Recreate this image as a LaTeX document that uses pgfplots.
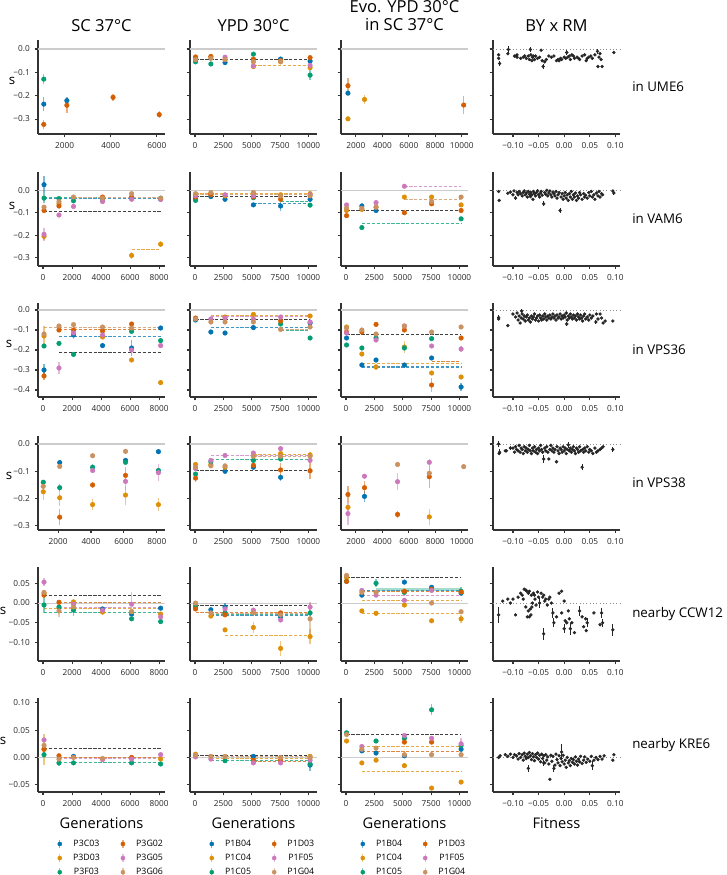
\documentclass[border=0pt]{standalone}
\usepackage{fontspec}
\setmainfont{Open Sans}
\usepackage{pgfplots}
\pgfplotsset{compat=1.18}
\definecolor{cb0}{HTML}{0173B2}
\definecolor{cb1}{HTML}{DE8F05}
\definecolor{cb2}{HTML}{029E73}
\definecolor{cb3}{HTML}{D55E00}
\definecolor{cb4}{HTML}{CC78BC}
\definecolor{cb5}{HTML}{CA9161}
\pgfplotsset{
  base/.style={scale only axis, width=95.25pt, height=70.5pt, axis lines*=left,
    axis line style={line width=0.9pt, black!80},
    every tick/.style={line width=0.8pt, black!80},
    major tick length=2.6pt, tick align=outside,
    scaled x ticks=false, scaled y ticks=false,
    ticklabel style={font=\fontsize{6.2}{7}\selectfont, text=black!85},
    extra y ticks={0}, extra y tick labels={},
    extra y tick style={grid=major, major grid style={black!20, line width=0.8pt}}},
  place/.style 2 args={at={(#1*0.75pt,-#2*0.75pt)}, anchor=north west},
  r1/.style={ymin=-0.364, ymax=0.0386, ytick={-0.3,-0.2,-0.1,0}, yticklabels={−0.3,−0.2,−0.1,0.0}},
  r2/.style={ymin=-0.337, ymax=0.0814, ytick={-0.3,-0.2,-0.1,0}, yticklabels={−0.3,−0.2,−0.1,0.0}},
  r3/.style={ymin=-0.435, ymax=0.035, ytick={-0.4,-0.3,-0.2,-0.1,0}, yticklabels={−0.4,−0.3,−0.2,−0.1,0.0}},
  r4/.style={ymin=-0.315, ymax=0.0293, ytick={-0.3,-0.2,-0.1,0}, yticklabels={−0.3,−0.2,−0.1,0.0}},
  r5/.style={ymin=-0.147, ymax=0.0914, ytick={-0.1,-0.05,0,0.05}, yticklabels={−0.10,−0.05,0.00,0.05}},
  r6/.style={ymin=-0.0632, ymax=0.1086, ytick={-0.05,0,0.05,0.1}, yticklabels={−0.05,0.00,0.05,0.10}},
  nyl/.style={yticklabels={}},
  xA1/.style={xmin=850, xmax=6350, xtick={2000,4000,6000}, xticklabels={2000,4000,6000}},
  xA/.style={xmin=-345, xmax=8400, xtick={0,2000,4000,6000,8000}, xticklabels={0,2000,4000,6000,8000}},
  xA4/.style={xmin=780, xmax=8500, xtick={2000,4000,6000,8000}, xticklabels={2000,4000,6000,8000}},
  xB/.style={xmin=-440, xmax=10760, xtick={0,2500,5000,7500,10000}, xticklabels={0,2500,5000,7500,10000}},
  xC1/.style={xmin=875, xmax=10475, xtick={2000,4000,6000,8000,10000}, xticklabels={2000,4000,6000,8000,10000}},
  xD/.style={xmin=-0.139, xmax=0.109, xtick={-0.1,-0.05,0,0.05,0.1}, xticklabels={−0.10,−0.05,0.00,0.05,0.10},
    extra y tick style={grid=major, major grid style={black!45, line width=0.5pt, dotted}}},
  ser/.style={only marks, mark=*, mark size=1.7pt, forget plot,
    error bars/x dir=both, error bars/x explicit, error bars/y dir=both, error bars/y explicit,
    error bars/error mark=none, error bars/error bar style={line width=1pt, opacity=0.5}},
  dl/.style={forget plot, no marks, line width=0.7pt, dash pattern=on 2.4pt off 1.3pt},
  sc/.style={only marks, mark=*, mark size=1.05pt, color=black!85, forget plot},
  sce/.style={sc, error bars/x dir=both, error bars/x explicit, error bars/y dir=both, error bars/y explicit,
    error bars/error mark=none, error bars/error bar style={line width=0.7pt}},
  leg/.style={legend columns=2,
    legend style={draw=none, fill=none, at={(0.10,-0.46)}, anchor=north west,
      font=\fontsize{6.6}{7.5}\selectfont, row sep=1.9pt,
      nodes={inner sep=1.2pt},
      /tikz/every even column/.append style={column sep=12.5pt}}}
}
\newcommand\Sr[2]{\addplot[color=#1, ser] coordinates {#2};}
\newcommand\Dl[4]{\addplot[color=#1!75!white, dl] coordinates {(#3,#2) (#4,#2)};}
\newcommand\Lg[2]{\addlegendimage{color=#1, legend image code/.code={%
   \draw[color=#1, opacity=0.5, line width=0.9pt] (0.12cm,-0.105cm)--(0.12cm,0.105cm);
   \fill[color=#1] (0.12cm,0cm) circle (1.5pt);
   \path (0cm,0cm) (0.42cm,0cm);}}\addlegendentry{#2}}
\begin{document}
\begin{tikzpicture}
\path[use as bounding box] (0,0) rectangle (544.5pt,-656.25pt);
% titles
\node[font=\fontsize{12.4}{14}\selectfont] at (101.5*0.75pt,-26*0.75pt) {SC 37°C};
\node[font=\fontsize{12.4}{14}\selectfont] at (253.5*0.75pt,-26*0.75pt) {YPD 30°C};
\node[font=\fontsize{12.4}{13.6}\selectfont, align=center] at (404.5*0.75pt,-16*0.75pt) {Evo. YPD 30°C\\in SC 37°C};
\node[font=\fontsize{12.4}{14}\selectfont] at (556.5*0.75pt,-26*0.75pt) {BY x RM};
% row labels
\foreach \t/\yy in {in UME6/87, in VAM6/219, in VPS36/350, in VPS38/483, nearby CCW12/614, nearby KRE6/745}
  \node[font=\fontsize{10}{12}\selectfont, anchor=west, inner sep=0pt] at (632*0.75pt,-\yy*0.75pt) {\t};
% s labels
\foreach \xx/\yy in {12/81, 12/206, 9/344, 9/476, 3/611, 3/741}
  \node[font=\fontsize{10}{12}\selectfont] at (\xx*0.75pt,-\yy*0.75pt) {s};
% x labels
\foreach \xx/\t in {101.5/Generations, 253.5/Generations, 404.5/Generations, 556.5/Fitness}
  \node[font=\fontsize{11}{13}\selectfont] at (\xx*0.75pt,-823*0.75pt) {\t};

%================ ROW 1 =================
\begin{axis}[base,place={38}{40},r1,xA1]
\Sr{cb0}{(1100,-0.236) +- (0,0.03) (2100,-0.221) +- (0,0.016)}
\Sr{cb2}{(1100,-0.129) +- (0,0.022)}
\Sr{cb3}{(1100,-0.323) +- (0,0.02) (2100,-0.241) +- (0,0.032) (4100,-0.207) +- (0,0.016) (6100,-0.281) +- (0,0.016)}
\end{axis}
\begin{axis}[base,place={190}{40},r1,nyl,xB]
\Dl{black}{-0.044}{50}{10150}
\Dl{cb1}{-0.071}{5150}{10150}
\Sr{cb0}{(2650,-0.058) +- (0,0.012) (7550,-0.043) +- (0,0.005) (10150,-0.052) +- (0,0.006)}
\Sr{cb1}{(50,-0.04) +- (0,0.004) (1400,-0.033) +- (0,0.004) (2650,-0.045) +- (0,0.004) (5150,-0.075) +- (0,0.01) (7550,-0.055) +- (0,0.008) (10150,-0.08) +- (0,0.006)}
\Sr{cb2}{(50,-0.055) +- (0,0.004) (1400,-0.064) +- (0,0.008) (5150,-0.022) +- (0,0.006) (10150,-0.112) +- (0,0.02)}
\Sr{cb3}{(50,-0.034) +- (0,0.004) (1400,-0.032) +- (0,0.004) (5150,-0.043) +- (0,0.004) (7550,-0.05) +- (0,0.004) (10150,-0.037) +- (0,0.004)}
\Sr{cb4}{(2650,-0.035) +- (0,0.004) (5150,-0.073) +- (0,0.008) (10150,-0.07) +- (0,0.004)}
\Sr{cb5}{(50,-0.045) +- (0,0.004) (1400,-0.04) +- (0,0.004) (2650,-0.045) +- (0,0.004) (5150,-0.055) +- (0,0.004) (7550,-0.053) +- (0,0.004)}
\end{axis}
\begin{axis}[base,place={341}{40},r1,nyl,xC1]
\Sr{cb0}{(1400,-0.189) +- (0,0.01)}
\Sr{cb1}{(1400,-0.299) +- (0,0.004) (2650,-0.216) +- (0,0.02)}
\Sr{cb3}{(1400,-0.157) +- (0,0.035) (10150,-0.24) +- (0,0.04)}
\end{axis}
\begin{axis}[base,place={493}{40},r1,nyl,xD]
\addplot[sc] coordinates {(-0.128,-0.025) (-0.128,-0.04) (-0.11,-0.02) (-0.097,-0.03) (-0.092,-0.035) (-0.092,-0.025) (-0.08,-0.035) (-0.077,-0.03) (-0.074,-0.04) (-0.07,-0.03) (-0.068,-0.045) (-0.065,-0.025) (-0.063,-0.05) (-0.062,-0.035) (-0.06,-0.03) (-0.058,-0.045) (-0.056,-0.03) (-0.045,-0.005) (-0.043,-0.05) (-0.038,-0.055) (-0.035,-0.045) (-0.03,-0.03) (-0.025,-0.035) (-0.02,-0.03) (-0.015,-0.05) (-0.012,-0.045) (-0.01,-0.05) (-0.007,-0.04) (-0.005,-0.045) (0.0,-0.035) (0.003,-0.04) (0.007,-0.035) (0.01,-0.03) (0.012,-0.045) (0.015,-0.025) (0.018,-0.03) (0.02,-0.04) (0.025,-0.035) (0.03,-0.045) (0.035,-0.03) (0.04,-0.025) (0.043,-0.05) (0.048,-0.035) (0.055,-0.04) (0.06,-0.025) (0.066,-0.075) (0.068,-0.035) (0.07,-0.02) (0.074,-0.075) (0.072,-0.045) (0.097,-0.015) (-0.085,-0.04) (-0.052,-0.04) (-0.048,-0.035) (0.028,-0.04) (0.045,-0.04) (0.052,-0.03)};
\addplot[sce] coordinates {(-0.126,-0.062) +- (0,0.01) (-0.109,-0.002) +- (0,0.015) (-0.066,-0.002) +- (0,0.012) (-0.041,-0.075) +- (0,0.012) (0.005,-0.015) +- (0,0.012) (0.065,-0.01) +- (0,0.012) (-0.094,-0.03) +- (0.003,0.01)};
\end{axis}

%================ ROW 2 =================
\begin{axis}[base,place={38}{172},r2,xA]
\Dl{cb0}{-0.036}{70}{8100}
\Dl{cb2}{-0.034}{70}{8100}
\Dl{cb5}{-0.033}{2100}{8100}
\Dl{black}{-0.096}{70}{8100}
\Dl{cb1}{-0.263}{6100}{8100}
\Sr{cb0}{(70,0.025) +- (0,0.04) (8100,-0.04) +- (0,0.004)}
\Sr{cb1}{(70,-0.205) +- (0,0.015) (1100,-0.06) +- (0,0.004) (6100,-0.29) +- (0,0.015) (8100,-0.24) +- (0,0.013)}
\Sr{cb2}{(70,-0.035) +- (0,0.02) (1100,-0.037) +- (0,0.004) (2100,-0.047) +- (0,0.004) (4100,-0.045) +- (0,0.004) (6100,-0.035) +- (0,0.004) (8100,-0.035) +- (0,0.004)}
\Sr{cb3}{(70,-0.09) +- (0,0.01) (1100,-0.07) +- (0,0.004) (4100,-0.03) +- (0,0.004) (6100,-0.03) +- (0,0.004)}
\Sr{cb4}{(70,-0.196) +- (0,0.03) (1100,-0.11) +- (0,0.004) (2100,-0.072) +- (0,0.004) (4100,-0.05) +- (0,0.004) (6100,-0.04) +- (0,0.004) (8100,-0.04) +- (0,0.004)}
\Sr{cb5}{(70,-0.075) +- (0,0.004) (1100,-0.05) +- (0,0.004) (2100,-0.03) +- (0,0.01) (4100,-0.035) +- (0,0.004) (6100,-0.015) +- (0,0.004) (8100,-0.035) +- (0,0.004)}
\end{axis}
\begin{axis}[base,place={190}{172},r2,nyl,xB]
\Dl{cb1}{-0.015}{50}{10150}
\Dl{cb5}{-0.019}{50}{10150}
\Dl{black}{-0.026}{50}{10150}
\Dl{cb0}{-0.06}{5150}{10150}
\Dl{cb2}{-0.048}{7550}{10150}
\Sr{cb0}{(50,-0.035) +- (0,0.004) (1400,-0.028) +- (0,0.004) (2650,-0.04) +- (0,0.004) (5150,-0.065) +- (0,0.004) (7550,-0.07) +- (0,0.02) (10150,-0.04) +- (0,0.004)}
\Sr{cb1}{(50,-0.02) +- (0,0.004) (1400,-0.015) +- (0,0.004) (2650,-0.025) +- (0,0.004) (5150,-0.015) +- (0,0.004) (7550,-0.02) +- (0,0.004) (10150,-0.015) +- (0,0.012)}
\Sr{cb2}{(50,-0.045) +- (0,0.004) (5150,-0.033) +- (0,0.004) (10150,-0.066) +- (0,0.004)}
\Sr{cb3}{(50,-0.03) +- (0,0.004) (1400,-0.02) +- (0,0.004) (5150,-0.03) +- (0,0.004) (7550,-0.04) +- (0,0.004)}
\Sr{cb4}{(50,-0.025) +- (0,0.004) (2650,-0.02) +- (0,0.004) (5150,-0.025) +- (0,0.004) (10150,-0.02) +- (0,0.004)}
\Sr{cb5}{(50,-0.015) +- (0,0.004) (1400,-0.01) +- (0,0.004) (5150,-0.01) +- (0,0.004) (7550,-0.025) +- (0,0.004) (10150,-0.025) +- (0,0.004)}
\end{axis}
\begin{axis}[base,place={341}{172},r2,nyl,xB]
\Dl{cb4}{0.018}{5150}{10150}
\Dl{cb1}{-0.04}{5150}{10150}
\Dl{cb5}{-0.043}{5150}{10150}
\Dl{black}{-0.09}{50}{10150}
\Dl{cb2}{-0.147}{1400}{10150}
\Sr{cb0}{(1400,-0.07) +- (0,0.012) (2650,-0.09) +- (0,0.004)}
\Sr{cb1}{(50,-0.09) +- (0,0.004) (1400,-0.085) +- (0,0.012) (2650,-0.075) +- (0,0.004) (5150,-0.03) +- (0,0.004) (7550,-0.03) +- (0,0.004) (10150,-0.065) +- (0,0.004)}
\Sr{cb2}{(1400,-0.166) +- (0,0.004) (10150,-0.127) +- (0,0.006)}
\Sr{cb3}{(50,-0.113) +- (0,0.006) (5150,-0.1) +- (0,0.006) (7550,-0.06) +- (0,0.004) (10150,-0.09) +- (0,0.004)}
\Sr{cb4}{(50,-0.065) +- (0,0.004) (2650,-0.055) +- (0,0.004) (5150,0.018) +- (0,0.004)}
\Sr{cb5}{(50,-0.08) +- (0,0.004) (1400,-0.08) +- (0,0.004) (2650,-0.075) +- (0,0.004) (7550,-0.05) +- (0,0.004) (10150,-0.03) +- (0,0.004)}
\end{axis}
\begin{axis}[base,place={493}{172},r2,nyl,xD]
\addplot[sc] coordinates {(-0.128,-0.005) (-0.127,-0.045) (-0.11,-0.013) (-0.105,-0.008) (-0.1,-0.02) (-0.098,-0.003) (-0.092,-0.01) (-0.09,-0.02) (-0.088,-0.005) (-0.085,-0.015) (-0.082,-0.025) (-0.08,-0.01) (-0.078,-0.003) (-0.076,-0.02) (-0.074,-0.012) (-0.072,-0.03) (-0.07,-0.005) (-0.068,-0.018) (-0.066,-0.028) (-0.065,-0.01) (-0.063,-0.02) (-0.061,-0.04) (-0.06,-0.005) (-0.058,-0.015) (-0.056,-0.025) (-0.054,-0.01) (-0.052,-0.002) (-0.05,-0.02) (-0.048,-0.03) (-0.046,-0.012) (-0.045,-0.005) (-0.043,-0.022) (-0.038,-0.01) (-0.036,-0.018) (-0.034,0.0) (-0.032,-0.025) (-0.03,-0.012) (-0.028,-0.003) (-0.026,-0.02) (-0.024,-0.03) (-0.022,-0.008) (-0.02,-0.015) (-0.018,-0.025) (-0.016,-0.005) (-0.014,-0.035) (-0.012,-0.02) (-0.01,-0.01) (-0.006,-0.03) (-0.004,-0.015) (-0.002,-0.04) (0.0,-0.025) (0.002,-0.01) (0.004,-0.035) (0.006,-0.02) (0.008,-0.045) (0.01,-0.015) (0.012,-0.03) (0.014,-0.005) (0.016,-0.04) (0.018,-0.02) (0.02,-0.03) (0.022,-0.012) (0.024,-0.045) (0.026,-0.025) (0.028,-0.035) (0.03,-0.01) (0.032,-0.02) (0.035,-0.04) (0.038,-0.015) (0.04,-0.03) (0.042,-0.022) (0.045,-0.035) (0.048,-0.01) (0.05,-0.025) (0.053,-0.005) (0.055,-0.03) (0.058,-0.02) (0.06,-0.04) (0.063,-0.012) (0.066,-0.025) (0.068,-0.005) (0.07,-0.03) (0.073,-0.015) (0.075,-0.02) (0.095,-0.003)};
\addplot[sce] coordinates {(-0.095,-0.035) +- (0,0.01) (-0.04,-0.06) +- (0,0.012) (-0.008,-0.09) +- (0,0.012) (0.097,-0.012) +- (0,0.01)};
\end{axis}

%================ ROW 3 =================
\begin{axis}[base,place={38}{303},r3,xA]
\Dl{cb5}{-0.088}{70}{8100}
\Dl{cb3}{-0.097}{1100}{8100}
\Dl{cb0}{-0.133}{1100}{8100}
\Dl{black}{-0.213}{1100}{8100}
\Sr{cb0}{(70,-0.3) +- (0,0.03) (2100,-0.125) +- (0,0.006) (4100,-0.178) +- (0,0.006) (6100,-0.19) +- (0,0.04) (8100,-0.09) +- (0,0.004)}
\Sr{cb1}{(70,-0.13) +- (0,0.05) (4100,-0.135) +- (0,0.006) (6100,-0.25) +- (0,0.006) (8100,-0.363) +- (0,0.012)}
\Sr{cb2}{(70,-0.18) +- (0,0.006) (1100,-0.167) +- (0,0.006) (2100,-0.222) +- (0,0.006) (6100,-0.107) +- (0,0.006) (8100,-0.153) +- (0,0.01)}
\Sr{cb3}{(70,-0.33) +- (0,0.02) (1100,-0.1) +- (0,0.006) (2100,-0.1) +- (0,0.006) (4100,-0.105) +- (0,0.006) (6100,-0.07) +- (0,0.006)}
\Sr{cb4}{(1100,-0.29) +- (0,0.03) (2100,-0.115) +- (0,0.03) (4100,-0.125) +- (0,0.006) (6100,-0.2) +- (0,0.006) (8100,-0.178) +- (0,0.006)}
\Sr{cb5}{(70,-0.12) +- (0,0.006) (1100,-0.08) +- (0,0.006) (2100,-0.073) +- (0,0.006) (4100,-0.085) +- (0,0.006) (6100,-0.09) +- (0,0.006)}
\end{axis}
\begin{axis}[base,place={190}{303},r3,nyl,xB]
\Dl{cb1}{-0.028}{1400}{10150}
\Dl{cb4}{-0.034}{1400}{10150}
\Dl{black}{-0.047}{50}{10150}
\Dl{cb0}{-0.088}{1400}{10150}
\Dl{cb5}{-0.095}{7550}{10150}
\Dl{cb2}{-0.104}{7550}{10150}
\Sr{cb0}{(50,-0.05) +- (0,0.005) (1400,-0.11) +- (0,0.005) (2650,-0.115) +- (0,0.005) (5150,-0.088) +- (0,0.005) (10150,-0.065) +- (0,0.005)}
\Sr{cb1}{(2650,-0.035) +- (0,0.005) (5150,-0.022) +- (0,0.005) (10150,-0.03) +- (0,0.005)}
\Sr{cb2}{(7550,-0.07) +- (0,0.005) (10150,-0.14) +- (0,0.01)}
\Sr{cb3}{(50,-0.04) +- (0,0.005) (7550,-0.055) +- (0,0.005)}
\Sr{cb4}{(1400,-0.045) +- (0,0.005) (2650,-0.04) +- (0,0.005) (5150,-0.045) +- (0,0.005) (7550,-0.035) +- (0,0.005) (10150,-0.06) +- (0,0.005)}
\Sr{cb5}{(50,-0.045) +- (0,0.005) (1400,-0.06) +- (0,0.005) (2650,-0.06) +- (0,0.005) (5150,-0.06) +- (0,0.005) (7550,-0.097) +- (0,0.005) (10150,-0.085) +- (0,0.005)}
\end{axis}
\begin{axis}[base,place={341}{303},r3,nyl,xB]
\Dl{black}{-0.123}{50}{10150}
\Dl{cb3}{-0.255}{7550}{10150}
\Dl{cb1}{-0.268}{1400}{10150}
\Dl{cb0}{-0.28}{1400}{10150}
\Dl{cb0}{-0.285}{1400}{10150}
\Sr{cb0}{(50,-0.14) +- (0,0.005) (1400,-0.275) +- (0,0.005) (2650,-0.25) +- (0,0.005) (5150,-0.275) +- (0,0.005) (7550,-0.24) +- (0,0.005) (10150,-0.385) +- (0,0.02)}
\Sr{cb1}{(50,-0.085) +- (0,0.005) (1400,-0.22) +- (0,0.005) (2650,-0.285) +- (0,0.015) (5150,-0.185) +- (0,0.03) (7550,-0.315) +- (0,0.01) (10150,-0.335) +- (0,0.008)}
\Sr{cb2}{(50,-0.175) +- (0,0.005) (1400,-0.19) +- (0,0.005) (2650,-0.14) +- (0,0.005) (5150,-0.19) +- (0,0.005) (7550,-0.143) +- (0,0.005)}
\Sr{cb3}{(50,-0.11) +- (0,0.005) (1400,-0.11) +- (0,0.005) (2650,-0.072) +- (0,0.005) (5150,-0.1) +- (0,0.005) (7550,-0.375) +- (0,0.035) (10150,-0.14) +- (0,0.008)}
\Sr{cb4}{(50,-0.115) +- (0,0.005) (2650,-0.15) +- (0,0.005) (5150,-0.08) +- (0,0.005) (7550,-0.18) +- (0,0.008) (10150,-0.195) +- (0,0.015)}
\Sr{cb5}{(50,-0.09) +- (0,0.005) (1400,-0.1) +- (0,0.005) (2650,-0.12) +- (0,0.005) (5150,-0.08) +- (0,0.005) (7550,-0.11) +- (0,0.005) (10150,-0.085) +- (0,0.005)}
\end{axis}
\begin{axis}[base,place={493}{303},r3,nyl,xD]
\addplot[sc] coordinates {(-0.11,-0.078) (-0.1,-0.02) (-0.095,-0.035) (-0.092,-0.015) (-0.09,-0.05) (-0.088,-0.03) (-0.086,-0.065) (-0.084,-0.04) (-0.082,-0.02) (-0.08,-0.045) (-0.078,-0.03) (-0.076,-0.055) (-0.074,-0.035) (-0.072,-0.025) (-0.07,-0.05) (-0.068,-0.04) (-0.066,-0.06) (-0.064,-0.03) (-0.062,-0.045) (-0.06,-0.035) (-0.058,-0.02) (-0.056,-0.05) (-0.054,-0.04) (-0.052,-0.03) (-0.05,-0.055) (-0.048,-0.025) (-0.046,-0.04) (-0.044,-0.05) (-0.042,-0.03) (-0.04,-0.045) (-0.038,-0.02) (-0.036,-0.035) (-0.034,-0.05) (-0.032,-0.03) (-0.03,-0.04) (-0.028,-0.025) (-0.026,-0.045) (-0.024,-0.035) (-0.022,-0.02) (-0.02,-0.04) (-0.018,-0.03) (-0.016,-0.05) (-0.014,-0.025) (-0.012,-0.04) (-0.01,-0.035) (-0.008,-0.02) (-0.006,-0.045) (-0.004,-0.03) (-0.002,-0.04) (0.0,-0.025) (0.002,-0.035) (0.004,-0.015) (0.006,-0.05) (0.008,-0.03) (0.01,-0.04) (0.012,-0.02) (0.014,-0.035) (0.016,-0.045) (0.018,-0.025) (0.02,-0.04) (0.022,-0.03) (0.024,-0.05) (0.026,-0.02) (0.028,-0.035) (0.03,-0.045) (0.032,-0.025) (0.034,-0.04) (0.036,-0.055) (0.038,-0.03) (0.04,-0.02) (0.042,-0.045) (0.045,-0.035) (0.048,-0.05) (0.05,-0.025) (0.053,-0.04) (0.056,-0.03) (0.063,-0.02) (0.066,-0.045) (0.07,-0.02) (0.073,-0.04) (0.076,-0.065) (0.08,-0.055) (0.095,-0.055) (-0.128,-0.045)};
\addplot[sce] coordinates {(-0.128,-0.038) +- (0,0.012) (-0.083,-0.005) +- (0,0.01) (0.005,-0.07) +- (0,0.01) (0.062,-0.06) +- (0,0.01)};
\end{axis}

%================ ROW 4 =================
\begin{axis}[base,place={38}{436},r4,xA4]
\Sr{cb0}{(2100,-0.068) +- (0,0.006) (6100,-0.06) +- (0,0.01) (8100,-0.028) +- (0,0.005)}
\Sr{cb1}{(1100,-0.175) +- (0,0.03) (2100,-0.197) +- (0,0.03) (4100,-0.222) +- (0,0.02) (6100,-0.187) +- (0,0.035) (8100,-0.222) +- (0,0.025)}
\Sr{cb2}{(1100,-0.14) +- (0,0.006) (2100,-0.16) +- (0,0.012) (4100,-0.085) +- (0,0.01) (6100,-0.067) +- (0,0.006) (8100,-0.097) +- (0,0.006)}
\Sr{cb3}{(2100,-0.268) +- (0,0.03) (4100,-0.15) +- (0,0.01) (6100,-0.115) +- (0,0.03)}
\Sr{cb4}{(4100,-0.097) +- (0,0.006) (6100,-0.137) +- (0,0.03) (8100,-0.105) +- (0,0.03)}
\Sr{cb5}{(1100,-0.155) +- (0,0.006) (2100,-0.082) +- (0,0.006) (4100,-0.043) +- (0,0.006) (6100,-0.027) +- (0,0.006)}
\end{axis}
\begin{axis}[base,place={190}{436},r4,nyl,xB]
\Dl{cb4}{-0.043}{1400}{10150}
\Dl{cb1}{-0.038}{5150}{10150}
\Dl{cb5}{-0.046}{5150}{10150}
\Dl{cb2}{-0.058}{1400}{10150}
\Dl{black}{-0.098}{50}{10150}
\Sr{cb0}{(2650,-0.1) +- (0,0.006) (5150,-0.085) +- (0,0.01) (7550,-0.122) +- (0,0.012)}
\Sr{cb1}{(50,-0.075) +- (0,0.01) (1400,-0.075) +- (0,0.006) (2650,-0.085) +- (0,0.01) (7550,-0.035) +- (0,0.006) (10150,-0.04) +- (0,0.01)}
\Sr{cb2}{(50,-0.11) +- (0,0.006) (1400,-0.065) +- (0,0.006) (5150,-0.06) +- (0,0.006) (7550,-0.055) +- (0,0.006)}
\Sr{cb3}{(50,-0.125) +- (0,0.015) (5150,-0.078) +- (0,0.006) (7550,-0.095) +- (0,0.025) (10150,-0.098) +- (0,0.03)}
\Sr{cb4}{(50,-0.09) +- (0,0.006) (1400,-0.06) +- (0,0.006) (2650,-0.042) +- (0,0.006) (5150,-0.033) +- (0,0.006) (7550,-0.017) +- (0,0.006) (10150,-0.06) +- (0,0.006)}
\Sr{cb5}{(50,-0.085) +- (0,0.006) (1400,-0.08) +- (0,0.006) (2650,-0.08) +- (0,0.006) (5150,-0.045) +- (0,0.006) (7550,-0.045) +- (0,0.006) (10150,-0.045) +- (0,0.006)}
\end{axis}
\begin{axis}[base,place={341}{436},r4,nyl,xC1]
\Sr{cb0}{(2650,-0.192) +- (0,0.02)}
\Sr{cb1}{(1400,-0.232) +- (0,0.006) (7550,-0.267) +- (0,0.03)}
\Sr{cb3}{(1400,-0.185) +- (0,0.03) (2650,-0.16) +- (0,0.025) (5150,-0.258) +- (0,0.012) (7550,-0.12) +- (0,0.04)}
\Sr{cb4}{(1400,-0.255) +- (0,0.04) (2650,-0.118) +- (0,0.006) (5150,-0.138) +- (0,0.03) (7550,-0.067) +- (0,0.012)}
\Sr{cb5}{(5150,-0.075) +- (0,0.006) (7550,-0.107) +- (0,0.006) (10150,-0.083) +- (0,0.006)}
\end{axis}
\begin{axis}[base,place={493}{436},r4,nyl,xD]
\addplot[sc] coordinates {(-0.127,-0.035) (-0.115,-0.025) (-0.113,-0.025) (-0.1,-0.015) (-0.097,-0.03) (-0.095,-0.01) (-0.093,-0.02) (-0.09,-0.025) (-0.088,-0.005) (-0.086,-0.03) (-0.084,-0.015) (-0.082,-0.02) (-0.08,-0.035) (-0.078,-0.01) (-0.076,-0.025) (-0.074,-0.015) (-0.072,-0.03) (-0.07,-0.02) (-0.068,-0.005) (-0.066,-0.025) (-0.064,-0.035) (-0.062,-0.015) (-0.06,-0.025) (-0.058,-0.01) (-0.056,-0.03) (-0.054,-0.02) (-0.052,-0.035) (-0.05,-0.015) (-0.048,-0.025) (-0.046,-0.005) (-0.044,-0.02) (-0.042,-0.03) (-0.03,-0.055) (-0.038,-0.015) (-0.036,-0.025) (-0.034,-0.01) (-0.032,-0.03) (-0.028,-0.02) (-0.026,-0.005) (-0.024,-0.025) (-0.022,-0.015) (-0.02,-0.03) (-0.018,-0.02) (-0.015,-0.065) (-0.014,-0.01) (-0.012,-0.025) (-0.01,-0.035) (-0.008,-0.015) (-0.006,-0.02) (-0.004,-0.03) (-0.002,-0.01) (0.0,-0.025) (0.002,-0.015) (0.004,-0.035) (0.006,-0.02) (0.01,-0.025) (0.012,-0.015) (0.014,-0.03) (0.016,-0.02) (0.018,-0.01) (0.02,-0.025) (0.022,-0.035) (0.024,-0.015) (0.026,-0.02) (0.028,-0.03) (0.03,-0.01) (0.032,-0.025) (0.036,-0.02) (0.038,-0.03) (0.04,-0.015) (0.042,-0.025) (0.045,-0.01) (0.048,-0.03) (0.05,-0.02) (0.053,-0.025) (0.056,-0.035) (0.06,-0.015) (0.063,-0.03) (0.066,-0.025) (0.07,-0.02) (0.073,-0.015) (0.076,-0.01)};
\addplot[sce] coordinates {(-0.128,0.0) +- (0,0.012) (-0.126,-0.03) +- (0,0.01) (-0.04,-0.055) +- (0,0.015) (0.035,-0.085) +- (0,0.01) (0.095,-0.02) +- (0,0.01) (-0.105,-0.015) +- (0.003,0.008) (0.008,-0.003) +- (0,0.012)};
\end{axis}

%================ ROW 5 =================
\begin{axis}[base,place={38}{567},r5,xA]
\Dl{black}{0.02}{70}{8100}
\Dl{cb3}{0.001}{1100}{8100}
\Dl{cb4}{-0.012}{1100}{8100}
\Dl{cb1}{-0.014}{70}{8100}
\Dl{cb2}{-0.025}{70}{8100}
\Sr{cb0}{(4100,-0.015) +- (0,0.003) (6100,-0.028) +- (0,0.003) (8100,-0.013) +- (0,0.003)}
\Sr{cb1}{(70,0.025) +- (0,0.003) (2100,0.003) +- (0,0.003) (4100,-0.023) +- (0,0.003) (6100,-0.022) +- (0,0.003) (8100,-0.028) +- (0,0.003)}
\Sr{cb2}{(70,-0.005) +- (0,0.02) (1100,-0.01) +- (0,0.003) (2100,-0.018) +- (0,0.015) (6100,-0.04) +- (0,0.003) (8100,-0.047) +- (0,0.003)}
\Sr{cb3}{(70,0.02) +- (0,0.003) (1100,0.002) +- (0,0.003)}
\Sr{cb4}{(70,0.053) +- (0,0.01) (2100,-0.003) +- (0,0.003) (4100,-0.018) +- (0,0.003) (6100,-0.003) +- (0,0.03) (8100,-0.035) +- (0,0.003)}
\Sr{cb5}{(70,0.027) +- (0,0.003) (1100,-0.02) +- (0,0.015) (2100,-0.01) +- (0,0.003) (6100,-0.022) +- (0,0.003)}
\end{axis}
\begin{axis}[base,place={190}{567},r5,nyl,xB]
\Dl{black}{-0.005}{50}{10150}
\Dl{cb3}{-0.023}{50}{10150}
\Dl{cb5}{-0.027}{1400}{10150}
\Dl{cb2}{-0.029}{1400}{10150}
\Dl{cb0}{-0.032}{1400}{10150}
\Dl{cb1}{-0.083}{2650}{10150}
\Sr{cb0}{(1400,-0.017) +- (0,0.003) (2650,-0.01) +- (0,0.01) (7550,-0.035) +- (0,0.003)}
\Sr{cb1}{(50,-0.005) +- (0,0.003) (1400,-0.033) +- (0,0.003) (2650,-0.068) +- (0,0.004) (5150,-0.062) +- (0,0.015) (7550,-0.115) +- (0,0.02) (10150,-0.085) +- (0,0.02)}
\Sr{cb2}{(50,-0.01) +- (0,0.003) (2650,-0.025) +- (0,0.003) (10150,-0.025) +- (0,0.003)}
\Sr{cb3}{(50,-0.015) +- (0,0.003) (2650,-0.03) +- (0,0.003) (7550,-0.025) +- (0,0.003)}
\Sr{cb4}{(2650,-0.015) +- (0,0.003) (5150,-0.018) +- (0,0.003) (7550,-0.043) +- (0,0.003) (10150,-0.01) +- (0,0.012)}
\Sr{cb5}{(50,0.0) +- (0,0.003) (1400,-0.025) +- (0,0.003) (5150,-0.025) +- (0,0.003) (7550,-0.03) +- (0,0.003) (10150,-0.04) +- (0,0.04)}
\end{axis}
\begin{axis}[base,place={341}{567},r5,nyl,xB]
\Dl{black}{0.065}{50}{10150}
\addplot[color=cb2!45!white, forget plot, line width=2.2pt, opacity=0.8] coordinates {(2650,0.035) (10150,0.035)};
\Dl{cb0}{0.031}{1400}{10150}
\Dl{cb3}{0.029}{1400}{10150}
\Dl{cb4}{0.02}{1400}{10150}
\Dl{cb1}{0.007}{1400}{10150}
\Dl{cb1}{-0.027}{1400}{10150}
\Sr{cb0}{(1400,0.02) +- (0,0.003) (5150,0.053) +- (0,0.003) (7550,0.04) +- (0,0.003) (10150,0.025) +- (0,0.003)}
\Sr{cb1}{(50,0.065) +- (0,0.003) (1400,-0.02) +- (0,0.003) (2650,-0.026) +- (0,0.003) (5150,-0.005) +- (0,0.003) (7550,-0.045) +- (0,0.003) (10150,-0.04) +- (0,0.01)}
\Sr{cb2}{(50,0.055) +- (0,0.003) (2650,0.05) +- (0,0.01) (5150,0.027) +- (0,0.003) (10150,0.03) +- (0,0.01)}
\Sr{cb3}{(50,0.055) +- (0,0.003) (5150,0.03) +- (0,0.003) (7550,0.035) +- (0,0.003) (10150,0.028) +- (0,0.003)}
\Sr{cb4}{(1400,0.032) +- (0,0.003) (2650,0.02) +- (0,0.003) (5150,0.007) +- (0,0.003) (7550,0.032) +- (0,0.003)}
\Sr{cb5}{(50,0.07) +- (0,0.003) (1400,0.027) +- (0,0.003) (2650,0.027) +- (0,0.003) (7550,0.0) +- (0,0.003) (10150,-0.022) +- (0,0.003)}
\end{axis}
\begin{axis}[base,place={493}{567},r5,nyl,xD]
\addplot[sc] coordinates {(-0.12,0.005) (-0.11,0.01) (-0.105,0.0) (-0.1,0.01) (-0.095,-0.03) (-0.09,0.015) (-0.085,0.025) (-0.082,0.02) (-0.078,0.035) (-0.075,0.033) (-0.073,0.03) (-0.07,0.025) (-0.068,0.03) (-0.075,-0.01) (-0.072,-0.035) (-0.07,-0.02) (-0.068,-0.035) (-0.066,-0.015) (-0.065,-0.03) (-0.063,-0.01) (-0.062,0.0) (-0.06,0.025) (-0.058,0.02) (-0.057,0.01) (-0.055,-0.005) (-0.05,0.015) (-0.045,0.025) (-0.042,0.015) (-0.038,0.005) (-0.036,0.01) (-0.033,-0.005) (-0.03,0.01) (-0.028,0.015) (-0.025,0.0) (-0.015,-0.035) (-0.01,0.025) (-0.005,0.03) (0.002,-0.045) (-0.005,-0.025) (0.005,-0.05) (0.008,-0.02) (0.01,-0.04) (0.015,-0.05) (0.02,-0.075) (0.035,-0.035) (0.038,-0.06) (0.042,-0.04) (0.043,-0.07) (0.058,-0.025) (0.07,-0.055) (-0.08,0.01) (-0.064,0.02) (-0.052,0.028) (-0.04,0.02) (0.0,0.005)};
\addplot[sce] coordinates {(-0.128,-0.03) +- (0,0.02) (-0.048,0.0) +- (0,0.012) (-0.04,-0.078) +- (0,0.015) (-0.022,-0.025) +- (0,0.012) (-0.02,-0.05) +- (0,0.012) (0.0,-0.065) +- (0,0.012) (0.012,-0.065) +- (0,0.015) (0.03,-0.02) +- (0,0.012) (0.045,-0.05) +- (0,0.012) (0.075,-0.05) +- (0,0.01) (0.073,-0.025) +- (0,0.012) (0.095,-0.068) +- (0,0.015)};
\end{axis}

%================ ROW 6 =================
\begin{axis}[base,place={38}{698},r6,xA,leg]
\Dl{black}{0.016}{70}{8100}
\Dl{cb3}{0.0}{1100}{8100}
\Dl{cb4}{-0.001}{1100}{8100}
\Dl{cb2}{-0.01}{1100}{8100}
\Sr{cb0}{(2100,0.002) +- (0,0.003)}
\Sr{cb1}{(70,0.015) +- (0,0.028) (8100,-0.003) +- (0,0.003)}
\Sr{cb2}{(70,0.005) +- (0,0.003) (1100,-0.01) +- (0,0.006) (2100,-0.01) +- (0,0.003) (6100,-0.01) +- (0,0.003) (8100,-0.012) +- (0,0.003)}
\Sr{cb3}{(70,0.015) +- (0,0.003) (1100,0.003) +- (0,0.003) (6100,0.0) +- (0,0.003)}
\Sr{cb4}{(70,0.032) +- (0,0.004) (4100,-0.004) +- (0,0.003) (6100,-0.003) +- (0,0.003) (8100,0.005) +- (0,0.003)}
\Sr{cb5}{(70,0.022) +- (0,0.003) (1100,-0.003) +- (0,0.003) (2100,0.0) +- (0,0.003) (4100,-0.002) +- (0,0.003)}
\Lg{cb0}{P3C03}\Lg{cb3}{P3G02}\Lg{cb1}{P3D03}\Lg{cb4}{P3G05}\Lg{cb2}{P3F03}\Lg{cb5}{P3G06}
\end{axis}
\begin{axis}[base,place={190}{698},r6,nyl,xB,leg]
\Dl{black}{0.004}{50}{10150}
\Dl{cb5}{0.002}{1400}{10150}
\Dl{cb1}{-0.002}{1400}{10150}
\Dl{cb2}{-0.006}{1400}{10150}
\Dl{cb0}{-0.008}{5150}{10150}
\Dl{cb3}{-0.008}{5150}{10150}
\Sr{cb0}{(5150,0.002) +- (0,0.003) (10150,-0.014) +- (0,0.01)}
\Sr{cb1}{(50,0.006) +- (0,0.003) (10150,0.002) +- (0,0.003)}
\Sr{cb2}{(2650,-0.006) +- (0,0.003) (10150,-0.012) +- (0,0.003)}
\Sr{cb3}{(5150,-0.005) +- (0,0.003) (7550,-0.005) +- (0,0.003)}
\Sr{cb4}{(50,0.001) +- (0,0.003) (1400,-0.003) +- (0,0.003) (5150,-0.01) +- (0,0.003) (7550,-0.01) +- (0,0.003) (10150,-0.005) +- (0,0.003)}
\Sr{cb5}{(50,0.004) +- (0,0.003) (1400,0.002) +- (0,0.003) (2650,0.002) +- (0,0.003) (7550,0.0) +- (0,0.003) (10150,0.0) +- (0,0.003)}
\Lg{cb0}{P1B04}\Lg{cb3}{P1D03}\Lg{cb1}{P1C04}\Lg{cb4}{P1F05}\Lg{cb2}{P1C05}\Lg{cb5}{P1G04}
\end{axis}
\begin{axis}[base,place={341}{698},r6,nyl,xB,leg]
\Dl{black}{0.042}{50}{10150}
\Dl{cb1}{0.02}{1400}{10150}
\Dl{cb3}{0.01}{1400}{10150}
\Dl{cb1}{-0.025}{1400}{10150}
\Sr{cb0}{(1400,0.012) +- (0,0.003) (2650,0.008) +- (0,0.003) (5150,0.003) +- (0,0.003) (10150,0.015) +- (0,0.003)}
\Sr{cb1}{(50,0.03) +- (0,0.003) (1400,-0.01) +- (0,0.003) (2650,-0.005) +- (0,0.003) (5150,-0.015) +- (0,0.003) (7550,-0.056) +- (0,0.003) (10150,-0.045) +- (0,0.003)}
\Sr{cb2}{(50,0.045) +- (0,0.003) (2650,0.03) +- (0,0.003) (5150,0.035) +- (0,0.003) (7550,0.087) +- (0,0.01) (10150,0.022) +- (0,0.003)}
\Sr{cb3}{(5150,0.028) +- (0,0.003) (7550,0.028) +- (0,0.003)}
\Sr{cb4}{(1400,0.02) +- (0,0.003) (5150,0.04) +- (0,0.003) (7550,0.035) +- (0,0.003) (10150,0.025) +- (0,0.01)}
\Sr{cb5}{(50,0.042) +- (0,0.003) (1400,0.015) +- (0,0.003) (2650,0.017) +- (0,0.003) (5150,0.005) +- (0,0.003) (7550,0.005) +- (0,0.003) (10150,0.005) +- (0,0.003)}
\Lg{cb0}{P1B04}\Lg{cb3}{P1D03}\Lg{cb1}{P1C04}\Lg{cb4}{P1F05}\Lg{cb2}{P1C05}\Lg{cb5}{P1G04}
\end{axis}
\begin{axis}[base,place={493}{698},r6,nyl,xD]
\addplot[sc] coordinates {(-0.128,0.0) (-0.125,0.003) (-0.115,0.005) (-0.11,0.002) (-0.105,0.006) (-0.1,0.0) (-0.097,0.005) (-0.093,0.003) (-0.09,-0.003) (-0.088,0.007) (-0.085,0.0) (-0.082,0.005) (-0.08,-0.005) (-0.078,0.008) (-0.076,0.002) (-0.074,-0.002) (-0.072,0.006) (-0.07,0.0) (-0.068,0.009) (-0.066,0.003) (-0.064,-0.004) (-0.062,0.007) (-0.06,0.001) (-0.058,-0.006) (-0.056,0.005) (-0.054,0.0) (-0.052,0.008) (-0.05,-0.003) (-0.048,0.004) (-0.046,-0.008) (-0.044,0.006) (-0.042,-0.002) (-0.04,0.003) (-0.038,-0.01) (-0.036,0.005) (-0.034,-0.005) (-0.032,0.001) (-0.028,-0.04) (-0.03,-0.012) (-0.026,0.004) (-0.024,-0.007) (-0.022,0.002) (-0.018,-0.014) (-0.016,0.006) (-0.014,-0.004) (-0.012,-0.01) (-0.01,0.003) (-0.008,-0.015) (-0.006,-0.002) (-0.004,-0.008) (-0.002,0.004) (0.0,-0.012) (0.002,-0.005) (0.004,-0.018) (0.006,0.0) (0.008,-0.01) (0.01,-0.006) (0.012,-0.015) (0.014,-0.002) (0.016,-0.009) (0.018,-0.004) (0.02,-0.012) (0.022,0.001) (0.024,-0.007) (0.026,-0.014) (0.028,-0.003) (0.03,-0.008) (0.032,0.002) (0.035,-0.011) (0.038,-0.005) (0.04,0.001) (0.043,-0.009) (0.046,-0.003) (0.05,-0.007) (0.053,0.002) (0.058,-0.005) (0.062,0.0) (0.066,-0.004) (0.07,0.002) (0.074,-0.003) (0.078,0.003) (0.095,-0.005) (0.097,0.005)};
\addplot[sce] coordinates {(-0.07,-0.02) +- (0,0.006) (-0.02,-0.02) +- (0,0.006) (-0.005,0.01) +- (0,0.015) (0.055,-0.015) +- (0,0.008) (-0.04,-0.01) +- (0,0.005)};
\end{axis}
\end{tikzpicture}
\end{document}
